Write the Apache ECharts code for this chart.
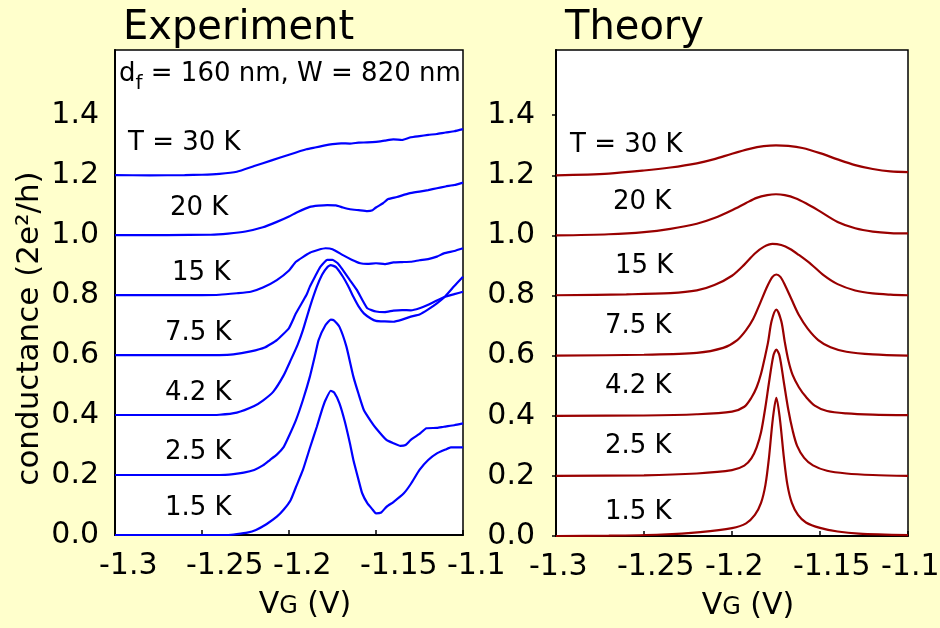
<!DOCTYPE html>
<html>
<head>
<meta charset="utf-8">
<script src="https://cdn.jsdelivr.net/npm/echarts@6/dist/echarts.min.js"></script>
<style>
  html, body { margin: 0; padding: 0; background: #ffffcc; }
  #chart { width: 940px; height: 628px; }
</style>
</head>
<body>
<div id="chart"></div>
<script>
const FONT = 'DejaVu Sans';
const BLUE = '#0000ff';
const DARK_RED = '#990000';

// gate voltage ticks / conductance ticks
const xTicks = [-1.3, -1.25, -1.2, -1.15, -1.1];
const yTicks = [0, 0.2, 0.4, 0.6, 0.8, 1.0, 1.2, 1.4];

const tempLabels = ['T = 30 K', '20 K', '15 K', '7.5 K', '4.2 K', '2.5 K', '1.5 K'];
// label anchors in data units [V, conductance]
const expLabelV = [-1.2925, -1.2684, -1.2672, -1.2713, -1.2713, -1.2713, -1.2713];
const expLabelG = [1.307, 1.09, 0.873, 0.673, 0.473, 0.277, 0.09];
const thLabelV = [-1.292, -1.2676, -1.2665, -1.2722, -1.2722, -1.2722, -1.2722];
const thLabelG = [1.3, 1.11, 0.897, 0.697, 0.497, 0.297, 0.08];

// Experiment, [VG, G] (curves offset by 0.2)
const exp30 = [[-1.3,1.2],[-1.28,1.199],[-1.26,1.2],[-1.25,1.201],[-1.24,1.204],[-1.23,1.211],[-1.22,1.23],[-1.21,1.249],[-1.2,1.268],[-1.19,1.286],[-1.185,1.292],[-1.18,1.298],[-1.175,1.303],[-1.17,1.306],[-1.165,1.305],[-1.16,1.308],[-1.155,1.309],[-1.15,1.311],[-1.145,1.315],[-1.14,1.319],[-1.135,1.317],[-1.13,1.326],[-1.125,1.33],[-1.12,1.334],[-1.115,1.337],[-1.11,1.342],[-1.105,1.346],[-1.1,1.353]];
const exp20 = [[-1.3,1.0],[-1.27,1.0],[-1.245,1.001],[-1.235,1.005],[-1.225,1.012],[-1.215,1.026],[-1.207,1.044],[-1.2,1.062],[-1.195,1.077],[-1.188,1.094],[-1.183,1.098],[-1.178,1.1],[-1.173,1.099],[-1.169,1.092],[-1.165,1.086],[-1.16,1.083],[-1.155,1.08],[-1.152,1.083],[-1.15,1.092],[-1.146,1.106],[-1.143,1.12],[-1.138,1.127],[-1.131,1.139],[-1.125,1.145],[-1.12,1.15],[-1.115,1.156],[-1.11,1.162],[-1.105,1.167],[-1.1,1.175]];
const exp15K = [[-1.3,0.8],[-1.25,0.8],[-1.24,0.801],[-1.23,0.806],[-1.222,0.811],[-1.215,0.825],[-1.207,0.85],[-1.2,0.882],[-1.196,0.911],[-1.188,0.941],[-1.183,0.951],[-1.179,0.956],[-1.175,0.953],[-1.169,0.933],[-1.164,0.918],[-1.159,0.906],[-1.155,0.904],[-1.15,0.906],[-1.145,0.903],[-1.14,0.909],[-1.135,0.91],[-1.13,0.911],[-1.125,0.916],[-1.12,0.92],[-1.115,0.928],[-1.111,0.939],[-1.105,0.947],[-1.1,0.956]];
const exp75 = [[-1.3,0.6],[-1.24,0.6],[-1.232,0.602],[-1.222,0.612],[-1.214,0.625],[-1.207,0.65],[-1.2,0.69],[-1.196,0.739],[-1.19,0.8],[-1.188,0.828],[-1.185,0.862],[-1.182,0.894],[-1.178,0.917],[-1.175,0.917],[-1.172,0.906],[-1.169,0.883],[-1.165,0.85],[-1.161,0.817],[-1.158,0.785],[-1.155,0.756],[-1.15,0.745],[-1.145,0.743],[-1.14,0.748],[-1.135,0.75],[-1.13,0.749],[-1.125,0.756],[-1.12,0.768],[-1.115,0.782],[-1.11,0.795],[-1.105,0.803],[-1.1,0.811]];
const exp42 = [[-1.3,0.4],[-1.25,0.4],[-1.24,0.401],[-1.23,0.408],[-1.22,0.43],[-1.215,0.448],[-1.209,0.478],[-1.203,0.533],[-1.199,0.583],[-1.195,0.635],[-1.192,0.683],[-1.188,0.76],[-1.184,0.828],[-1.181,0.868],[-1.178,0.893],[-1.176,0.9],[-1.173,0.893],[-1.169,0.861],[-1.166,0.83],[-1.163,0.794],[-1.16,0.762],[-1.157,0.739],[-1.153,0.722],[-1.15,0.714],[-1.145,0.712],[-1.14,0.711],[-1.135,0.718],[-1.13,0.728],[-1.125,0.735],[-1.12,0.752],[-1.115,0.772],[-1.11,0.797],[-1.105,0.83],[-1.1,0.861]];
const exp25 = [[-1.3,0.2],[-1.24,0.2],[-1.232,0.203],[-1.226,0.208],[-1.22,0.217],[-1.215,0.232],[-1.211,0.25],[-1.207,0.268],[-1.203,0.294],[-1.2,0.33],[-1.196,0.383],[-1.192,0.45],[-1.188,0.528],[-1.185,0.6],[-1.183,0.65],[-1.179,0.7],[-1.176,0.718],[-1.174,0.715],[-1.171,0.694],[-1.167,0.628],[-1.163,0.528],[-1.16,0.47],[-1.157,0.417],[-1.153,0.38],[-1.15,0.356],[-1.144,0.317],[-1.14,0.306],[-1.136,0.297],[-1.133,0.3],[-1.13,0.317],[-1.125,0.337],[-1.121,0.356],[-1.115,0.357],[-1.111,0.361],[-1.105,0.366],[-1.1,0.372]];
const exp15 = [[-1.3,0],[-1.235,0],[-1.23,0.003],[-1.224,0.008],[-1.219,0.017],[-1.213,0.036],[-1.207,0.061],[-1.203,0.085],[-1.199,0.117],[-1.196,0.16],[-1.192,0.217],[-1.188,0.29],[-1.184,0.361],[-1.181,0.418],[-1.179,0.45],[-1.176,0.481],[-1.174,0.475],[-1.171,0.439],[-1.168,0.38],[-1.165,0.306],[-1.163,0.25],[-1.16,0.183],[-1.158,0.14],[-1.155,0.106],[-1.152,0.085],[-1.15,0.072],[-1.147,0.075],[-1.144,0.094],[-1.14,0.11],[-1.134,0.139],[-1.13,0.17],[-1.125,0.217],[-1.12,0.25],[-1.115,0.272],[-1.11,0.285],[-1.107,0.292],[-1.1,0.292]];

// Theory
const th30 = [[-1.3,1.2],[-1.27,1.206],[-1.25,1.216],[-1.235,1.226],[-1.22,1.24],[-1.21,1.254],[-1.2,1.272],[-1.19,1.288],[-1.182,1.297],[-1.175,1.3],[-1.168,1.298],[-1.16,1.291],[-1.15,1.274],[-1.14,1.253],[-1.13,1.234],[-1.12,1.221],[-1.11,1.213],[-1.1,1.211]];
const th20 = [[-1.3,1.0],[-1.27,1.004],[-1.25,1.011],[-1.235,1.022],[-1.22,1.039],[-1.21,1.058],[-1.2,1.084],[-1.192,1.108],[-1.186,1.125],[-1.18,1.134],[-1.175,1.137],[-1.17,1.134],[-1.164,1.124],[-1.158,1.107],[-1.15,1.08],[-1.14,1.045],[-1.13,1.024],[-1.12,1.013],[-1.11,1.008],[-1.1,1.007]];
const th15K = [[-1.3,0.801],[-1.26,0.804],[-1.235,0.808],[-1.22,0.817],[-1.21,0.835],[-1.2,0.866],[-1.193,0.903],[-1.187,0.94],[-1.182,0.962],[-1.177,0.972],[-1.172,0.968],[-1.167,0.955],[-1.162,0.935],[-1.155,0.904],[-1.148,0.868],[-1.14,0.838],[-1.13,0.817],[-1.12,0.807],[-1.11,0.803],[-1.1,0.801]];
const th75 = [[-1.3,0.6],[-1.25,0.603],[-1.22,0.609],[-1.205,0.626],[-1.197,0.652],[-1.192,0.685],[-1.188,0.722],[-1.184,0.775],[-1.18,0.83],[-1.177,0.862],[-1.1748,0.87],[-1.1725,0.862],[-1.17,0.836],[-1.166,0.785],[-1.162,0.735],[-1.157,0.69],[-1.151,0.652],[-1.144,0.628],[-1.135,0.613],[-1.12,0.604],[-1.1,0.6]];
const th42 = [[-1.3,0.4],[-1.25,0.401],[-1.22,0.405],[-1.2,0.414],[-1.193,0.43],[-1.189,0.46],[-1.186,0.495],[-1.1835,0.54],[-1.1815,0.59],[-1.1795,0.645],[-1.1775,0.715],[-1.1748,0.753],[-1.172,0.715],[-1.17,0.645],[-1.168,0.585],[-1.1655,0.535],[-1.162,0.495],[-1.158,0.463],[-1.153,0.434],[-1.146,0.416],[-1.135,0.408],[-1.12,0.404],[-1.1,0.402]];
const th25 = [[-1.3,0.2],[-1.25,0.202],[-1.22,0.208],[-1.2,0.219],[-1.193,0.234],[-1.189,0.258],[-1.186,0.295],[-1.1835,0.345],[-1.181,0.43],[-1.179,0.51],[-1.1765,0.6],[-1.1748,0.62],[-1.173,0.6],[-1.1705,0.51],[-1.168,0.42],[-1.1655,0.35],[-1.163,0.3],[-1.159,0.26],[-1.154,0.235],[-1.146,0.217],[-1.135,0.208],[-1.12,0.203],[-1.1,0.2]];
const th15 = [[-1.3,0],[-1.27,0.001],[-1.24,0.005],[-1.218,0.013],[-1.2,0.026],[-1.192,0.042],[-1.187,0.07],[-1.1835,0.11],[-1.181,0.17],[-1.179,0.26],[-1.1768,0.39],[-1.1748,0.46],[-1.1728,0.39],[-1.1705,0.26],[-1.1685,0.17],[-1.166,0.11],[-1.1625,0.07],[-1.158,0.045],[-1.15,0.027],[-1.14,0.015],[-1.128,0.008],[-1.1,0.003]];

const expCurves = [exp30, exp20, exp15K, exp75, exp42, exp25, exp15];
const thCurves = [th30, th20, th15K, th75, th42, th25, th15];

const chart = echarts.init(document.getElementById('chart'));

const vgName = {
  name: '{a|V}{b|G}{a| (V)}',
  nameLocation: 'middle',
  nameGap: 52,
  nameTextStyle: {
    padding: [0, 0, 0, 32],
    rich: {
      a: { fontFamily: FONT, fontSize: 30, lineHeight: 36, color: '#000' },
      b: { fontFamily: FONT, fontSize: 24, lineHeight: 30, padding: [3, 0, 0, 0], color: '#000' }
    }
  }
};

const makeX = (gridIndex) => Object.assign({
  gridIndex,
  type: 'value',
  min: -1.3,
  max: -1.1,
  interval: 0.05,
  axisLine: { lineStyle: { color: '#000', width: 2 } },
  axisTick: { inside: true, length: 5, customValues: xTicks, lineStyle: { color: '#000', width: 1.5 } },
  axisLabel: { show: false },
  splitLine: { show: false }
}, vgName);

const makeY = (gridIndex, margin, showTick) => ({
  gridIndex,
  type: 'value',
  min: 0,
  max: 1.617,
  interval: 0.2,
  axisLine: { show: true, lineStyle: { color: '#000', width: 2 } },
  axisTick: { show: showTick, length: 4, customValues: yTicks, lineStyle: { color: '#000', width: 1.5 } },
  axisLabel: {
    customValues: yTicks,
    margin,
    fontFamily: FONT,
    fontSize: 30,
    color: '#000',
    formatter: v => (v > 1.5 ? '' : v.toFixed(1))
  },
  splitLine: { show: false }
});

const lineSeries = (curves, idx, color, smooth, width) => curves.map(d => ({
  type: 'line',
  xAxisIndex: idx,
  yAxisIndex: idx,
  data: d,
  showSymbol: false,
  smooth,
  lineStyle: { color, width },
  silent: true
}));

const textSeries = (idx, points, labelStyle) => ({
  type: 'scatter',
  xAxisIndex: idx,
  yAxisIndex: idx,
  data: points,
  symbolSize: 0,
  clip: false,
  silent: true,
  itemStyle: { color: '#000', opacity: 1 },
  label: Object.assign({ show: true, fontFamily: FONT, color: '#000', opacity: 1 }, labelStyle)
});

const tickTexts = (idx, dx) => textSeries(idx, xTicks.map(v => [v, 0]), {
  position: [dx, 31],
  align: 'left',
  verticalAlign: 'middle',
  fontSize: 30,
  formatter: p => String(p.value[0])
});

const tempTexts = (idx, vs, gs) => textSeries(idx, vs.map((v, i) => [v, gs[i]]), {
  position: [0, 0],
  align: 'left',
  verticalAlign: 'middle',
  fontSize: 26,
  formatter: p => tempLabels[p.dataIndex]
});

const titleStyle = { fontFamily: FONT, fontSize: 40, fontWeight: 'normal', color: '#000', lineHeight: 48 };

chart.setOption({
  backgroundColor: '#ffffcc',
  animation: false,
  textStyle: { fontFamily: FONT },
  title: [
    { text: 'Experiment', left: 123, top: 5, padding: 0, textStyle: titleStyle },
    { text: 'Theory', left: 565, top: 5, padding: 0, textStyle: titleStyle },
    {
      text: '{a|d}{b|f}{a| = 160 nm, W = 820 nm}',
      left: 119,
      top: 54,
      padding: 0,
      textStyle: {
        fontWeight: 'normal',
        rich: {
          a: { fontFamily: FONT, fontSize: 26, fontWeight: 'normal', lineHeight: 40, color: '#000' },
          b: { fontFamily: FONT, fontSize: 20, fontWeight: 'normal', lineHeight: 20, verticalAlign: 'bottom', color: '#000' }
        }
      }
    }
  ],
  grid: [
    { left: 115, top: 50, width: 348, height: 485, show: true, backgroundColor: '#fff', borderColor: '#000', borderWidth: 1.5 },
    { left: 556, top: 50, width: 352, height: 486, show: true, backgroundColor: '#fff', borderColor: '#000', borderWidth: 1.5 }
  ],
  xAxis: [makeX(0), makeX(1)],
  yAxis: [
    Object.assign(makeY(0, 16, false), {
      name: 'conductance (2e²/h)',
      nameLocation: 'middle',
      nameRotate: 90,
      nameGap: 70,
      nameTextStyle: { fontFamily: FONT, fontSize: 31, color: '#000', padding: [0, 72, 0, 0] }
    }),
    makeY(1, 21, true)
  ],
  series: [
    ...lineSeries(expCurves, 0, BLUE, 0.15, 2.2),
    ...lineSeries(thCurves, 1, DARK_RED, 0.3, 2.2),
    tickTexts(0, -16),
    tickTexts(1, -27),
    tempTexts(0, expLabelV, expLabelG),
    tempTexts(1, thLabelV, thLabelG)
  ]
});
</script>
</body>
</html>
